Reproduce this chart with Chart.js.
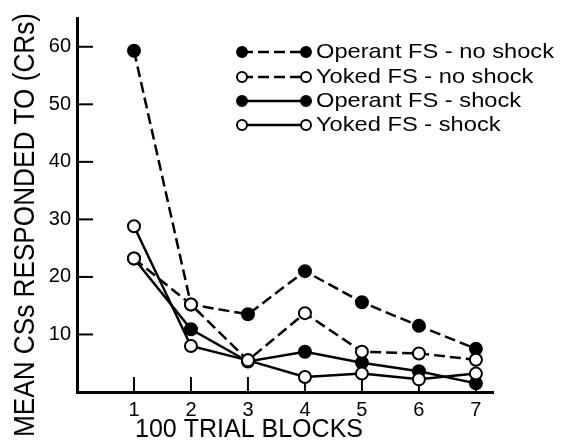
<!DOCTYPE html>
<html>
<head>
<meta charset="utf-8">
<script src="https://cdn.jsdelivr.net/npm/chart.js@4.4.1/dist/chart.umd.min.js"></script>
<style>html,body{margin:0;padding:0;background:#fff}</style>
</head>
<body>
<canvas id="c" width="573" height="443"></canvas>
<script>
// data
var blocks = [1, 2, 3, 4, 5, 6, 7];
var operantNoShock = [59.3, 15.2, 13.5, 21.0, 15.6, 11.5, 7.5];
var yokedNoShock = [23.2, 15.2, 5.5, 13.7, 7.0, 6.7, 5.6];
var operantShock = [23.2, 10.9, 5.3, 7.0, 5.1, 3.6, 1.5];
var yokedShock = [28.8, 8.0, 5.5, 2.6, 3.2, 2.2, 3.2];
var seriesNames = ["Operant FS - no shock", "Yoked FS - no shock", "Operant FS - shock", "Yoked FS - shock"];
var yTicks = [10, 20, 30, 40, 50, 60];

var FONT = "'Liberation Sans', Arial, sans-serif";

function pts(vals) {
	return blocks.map(function (b, i) { return { x: b, y: vals[i] }; });
}

function makeSet(label, vals, filled, dashed, order) {
	return {
		label: label,
		data: pts(vals),
		borderColor: "#000",
		borderWidth: 2.5,
		borderDash: dashed ? [11, 5] : [],
		pointRadius: 6,
		pointHoverRadius: 6,
		pointBorderWidth: 2,
		pointBorderColor: "#000",
		pointBackgroundColor: filled ? "#000" : "#fff",
		fill: false,
		tension: 0,
		order: order
	};
}

// draw text squeezed/stretched to a given width
function fitText(ctx, text, x, y, width, rotate) {
	ctx.save();
	ctx.translate(x, y);
	if (rotate) ctx.rotate(-Math.PI / 2);
	var w = ctx.measureText(text).width;
	ctx.scale(width / w, 1);
	ctx.fillText(text, 0, 0);
	ctx.restore();
}

var extras = {
	id: "extras",
	beforeDatasetsDraw: function (chart) {
		var ctx = chart.ctx, xs = chart.scales.x, ys = chart.scales.y;
		ctx.save();
		ctx.strokeStyle = "#000";
		ctx.lineWidth = 2;
		//ticks pointing inward
		yTicks.forEach(function (v) {
			var py = ys.getPixelForValue(v);
			ctx.beginPath(); ctx.moveTo(xs.left, py); ctx.lineTo(xs.left + 16, py); ctx.stroke();
		});
		blocks.forEach(function (b) {
			var px = xs.getPixelForValue(b);
			ctx.beginPath(); ctx.moveTo(px, ys.bottom); ctx.lineTo(px, ys.bottom - 15); ctx.stroke();
		});
		ctx.restore();
	},
	afterDraw: function (chart) {
		var ctx = chart.ctx;
		ctx.save();
		ctx.fillStyle = "#000";
		ctx.textBaseline = "middle";

		//axis titles
		ctx.textAlign = "center";
		ctx.font = "30px " + FONT;
		fitText(ctx, "MEAN CSs RESPONDED TO (CRs)", 26, 225, 424, true);
		ctx.font = "25px " + FONT;
		fitText(ctx, "100 TRIAL BLOCKS", 249, 430, 228, false);

		//legend
		var rows = [52, 77, 101, 125];
		ctx.font = "21px " + FONT;
		var sx = 238 / ctx.measureText(seriesNames[0]).width;
		chart.data.datasets.forEach(function (ds, i) {
			var y = rows[i];
			ctx.strokeStyle = "#000";
			ctx.lineWidth = 2.5;
			ctx.setLineDash(ds.borderDash);
			ctx.beginPath(); ctx.moveTo(242, y); ctx.lineTo(306, y); ctx.stroke();
			ctx.setLineDash([]);
			[242, 306].forEach(function (cx) {
				ctx.beginPath();
				ctx.arc(cx, y, 5, 0, Math.PI * 2);
				ctx.fillStyle = ds.pointBackgroundColor;
				ctx.fill();
				ctx.lineWidth = 2;
				ctx.stroke();
			});
			ctx.fillStyle = "#000";
			ctx.textAlign = "left";
			ctx.save();
			ctx.translate(316, y);
			ctx.scale(sx, 1);
			ctx.fillText(ds.label, 0, 0);
			ctx.restore();
		});
		ctx.restore();
	}
};

var chart = new Chart(document.getElementById("c"), {
	type: "line",
	data: {
		datasets: [
			makeSet(seriesNames[0], operantNoShock, true, true, 4),
			makeSet(seriesNames[1], yokedNoShock, false, true, 1),
			makeSet(seriesNames[2], operantShock, true, false, 3),
			makeSet(seriesNames[3], yokedShock, false, false, 2)
		]
	},
	options: {
		responsive: false,
		animation: false,
		devicePixelRatio: 1,
		layout: { padding: { top: 13, right: 80, left: 0, bottom: 0 } },
		plugins: {
			legend: { display: false },
			tooltip: { enabled: false }
		},
		scales: {
			x: {
				type: "linear",
				min: 0,
				max: 7.3,
				afterFit: function (s) { s.height = 51; },
				afterBuildTicks: function (s) { s.ticks = blocks.map(function (v) { return { value: v }; }); },
				grid: { display: false, drawTicks: false },
				border: { display: true, color: "#000", width: 3 },
				ticks: {
					autoSkip: false,
					padding: 6,
					color: "#000",
					font: { family: FONT, size: 20 }
				}
			},
			y: {
				min: 0,
				max: 65,
				afterFit: function (s) { s.width = 77; },
				afterBuildTicks: function (s) { s.ticks = yTicks.map(function (v) { return { value: v }; }); },
				grid: { display: false, drawTicks: false },
				border: { display: true, color: "#000", width: 3 },
				ticks: {
					autoSkip: false,
					padding: 6,
					color: "#000",
					font: { family: FONT, size: 20 }
				}
			}
		}
	},
	plugins: [extras]
});
</script>
</body>
</html>
